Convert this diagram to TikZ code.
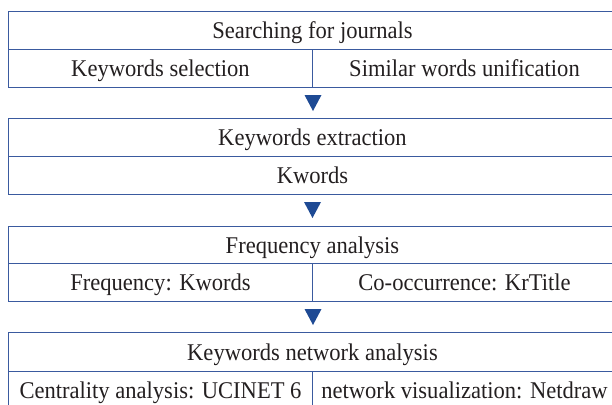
\documentclass[tikz,border=0pt]{standalone}
\usepackage{fontspec}
\setmainfont[FakeStretch=0.94]{Liberation Serif}
\definecolor{lineblue}{HTML}{3A5A9F}
\definecolor{triblue}{HTML}{1E4A94}
\definecolor{txt}{HTML}{231F20}
\begin{document}
\begin{tikzpicture}[x=1pt,y=-1pt,
  cell/.style={draw=lineblue, line width=1pt, inner sep=0pt, anchor=north west,
    minimum height=38pt, text height=17.5pt, text depth=1.5pt, text=txt,
    font=\fontsize{24}{28}\selectfont},
  fullcell/.style={cell, minimum width=608pt},
  halfcell/.style={cell, minimum width=304pt},
  tri/.style={fill=triblue}]
\useasboundingbox (0,0) rectangle (612,404);
% box 1
\node[fullcell] (b1t) at (8,11) {Searching for journals};
\node[halfcell] (b1l) at (8,49) {Keywords selection};
\node[halfcell] (b1r) at (312,49) {Similar words unification};
% box 2
\node[fullcell] (b2t) at (8,118) {Keywords extraction};
\node[fullcell] (b2b) at (8,156) {Kwords};
% box 3
\node[fullcell, minimum height=37pt] (b3t) at (8,226) {Frequency analysis};
\node[halfcell] (b3l) at (8,263) {Frequency: Kwords};
\node[halfcell] (b3r) at (312,263) {Co-occurrence: KrTitle};
% box 4
\node[fullcell, minimum height=39pt] (b4t) at (8,332) {Keywords network analysis};
\node[halfcell] (b4l) at (8,371) {Centrality analysis: UCINET 6};
\node[halfcell] (b4r) at (312,371) {network visualization: Netdraw};
% arrows
\fill[tri] (b1l.south east) ++(-8.5,7) -- ++(17,0) -- ++(-8.5,16) -- cycle;
\fill[tri] (b2b.south) ++(-8.5,7) -- ++(17,0) -- ++(-8.5,16) -- cycle;
\fill[tri] (b3l.south east) ++(-8.5,7) -- ++(17,0) -- ++(-8.5,16) -- cycle;
\end{tikzpicture}
\end{document}
